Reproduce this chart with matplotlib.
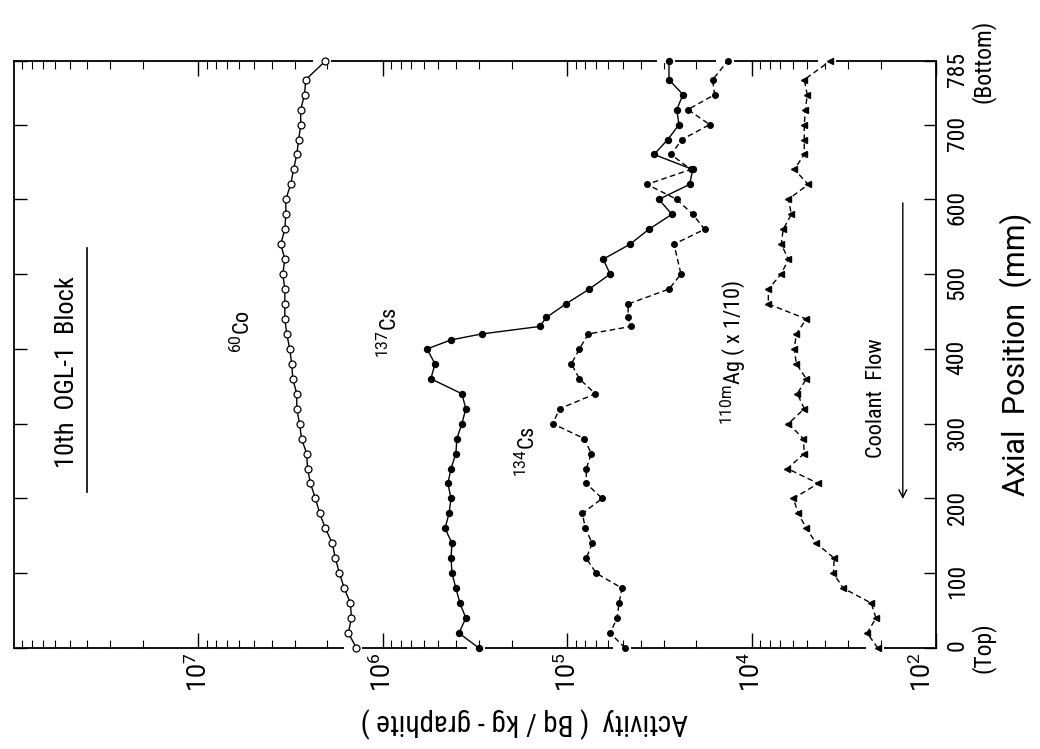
import numpy as np
import matplotlib
matplotlib.use('Agg')
import matplotlib.pyplot as plt
import matplotlib.transforms as mtransforms

plt.rcParams['font.family'] = ['Roboto Condensed', 'Roboto', 'DejaVu Sans']
plt.rcParams['mathtext.fontset'] = 'custom'
plt.rcParams['mathtext.rm'] = 'Roboto'
plt.rcParams['mathtext.it'] = 'Roboto'

# axial position (mm) and activity (Bq/kg-graphite)
co60_pos = [0, 20, 40, 60, 80, 100, 120, 140, 160, 180, 200, 220, 240, 260, 280,
            300, 320, 340, 360, 380, 400, 420, 440, 460, 480, 500, 520, 540, 560,
            580, 600, 620, 640, 660, 680, 700, 720, 740, 760, 785]
co60_val = [1.39e6, 1.54e6, 1.48e6, 1.50e6, 1.62e6, 1.72e6, 1.81e6, 1.88e6, 2.05e6,
            2.20e6, 2.32e6, 2.47e6, 2.56e6, 2.59e6, 2.76e6, 2.83e6, 2.93e6, 2.93e6,
            3.08e6, 3.12e6, 3.20e6, 3.32e6, 3.40e6, 3.40e6, 3.40e6, 3.49e6, 3.40e6,
            3.58e6, 3.40e6, 3.36e6, 3.36e6, 3.16e6, 3.05e6, 2.93e6, 2.86e6, 2.79e6,
            2.79e6, 2.66e6, 2.62e6, 2.05e6]

cs137_pos = [0, 20, 40, 60, 80, 100, 120, 140, 160, 180, 200, 220, 240, 260, 280,
             300, 320, 340, 360, 380, 400, 412, 420, 430, 442, 460, 480, 500, 520,
             540, 560, 580, 600, 620, 640, 660, 680, 700, 720, 740, 760, 785]
cs137_val = [3.02e5, 3.87e5, 3.55e5, 3.82e5, 4.02e5, 4.22e5, 4.27e5, 4.22e5, 4.60e5,
             4.38e5, 4.27e5, 4.44e5, 4.27e5, 4.02e5, 3.97e5, 3.73e5, 3.55e5, 3.73e5,
             5.49e5, 5.22e5, 5.76e5, 4.27e5, 2.91e5, 1.41e5, 1.30e5, 1.02e5, 7.60e4,
             5.86e4, 6.39e4, 4.57e4, 3.61e4, 2.71e4, 3.19e4, 2.17e4, 2.09e4, 3.39e4,
             2.85e4, 2.48e4, 2.55e4, 2.36e4, 2.81e4, 2.81e4]

cs134_pos = [0, 20, 40, 60, 80, 100, 120, 140, 160, 180, 200, 220, 240, 260, 280,
             300, 320, 340, 360, 380, 400, 420, 430, 442, 460, 480, 500, 540, 560,
             580, 600, 620, 640, 660, 680, 700, 720, 740, 760, 785]
cs134_val = [4.86e4, 5.86e4, 5.37e4, 5.24e4, 5.05e4, 6.97e4, 7.89e4, 7.33e4, 7.98e4,
             8.29e4, 6.47e4, 7.89e4, 7.89e4, 7.41e4, 8.09e4, 1.20e5, 1.10e5, 7.05e4,
             8.60e4, 9.50e4, 8.60e4, 7.69e4, 4.51e4, 4.68e4, 4.68e4, 2.81e4, 2.42e4,
             2.64e4, 1.80e4, 2.09e4, 2.55e4, 3.70e4, 2.14e4, 2.74e4, 2.39e4, 1.69e4,
             2.22e4, 1.59e4, 1.63e4, 1.35e4]

# 110mAg already multiplied by 1/10 as plotted
ag110m_pos = [0, 20, 40, 60, 80, 100, 120, 140, 160, 180, 200, 220, 240, 260, 280,
              300, 320, 340, 360, 380, 400, 420, 440, 460, 480, 500, 520, 540, 560,
              580, 600, 620, 640, 660, 680, 700, 720, 740, 760, 785]
ag110m_val = [2.07e3, 2.37e3, 2.12e3, 2.25e3, 3.19e3, 3.61e3, 3.57e3, 4.47e3, 5.06e3,
              5.59e3, 5.95e3, 4.36e3, 6.41e3, 5.19e3, 5.25e3, 6.33e3, 5.19e3, 5.66e3,
              5.06e3, 5.73e3, 5.88e3, 5.73e3, 5.06e3, 8.13e3, 8.13e3, 6.92e3, 6.33e3,
              6.92e3, 6.75e3, 6.10e3, 6.33e3, 4.94e3, 5.88e3, 5.19e3, 5.19e3, 5.19e3,
              5.12e3, 5.00e3, 5.19e3, 3.76e3]

act_ticks = [1e7, 1e6, 1e5, 1e4, 1e2]
act_labels = [r'$10^{7}$', r'$10^{6}$', r'$10^{5}$', r'$10^{4}$', r'$10^{2}$']
pos_ticks = [0, 100, 200, 300, 400, 500, 600, 700, 785]
pos_labels = ['0', '100', '200', '300', '400', '500', '600', '700', '785']
end_labels = ['(Top)', '(Bottom)']

# broken log axis: below 10^3.3 the decades are squeezed
LB = 3.3
K = 0.23


def fwd(v):
    v = np.asarray(v, dtype=float)
    L = np.log10(np.clip(v, 1e-10, None))
    return np.where(L >= LB, L, LB - (LB - L) * K)


def inv(u):
    u = np.asarray(u, dtype=float)
    with np.errstate(over='ignore'):
        return np.where(u >= LB, 10.0 ** u, 10.0 ** (LB - (LB - u) / K))


fig = plt.figure(figsize=(10.4, 7.49), dpi=100)
ax = fig.add_axes([14 / 1040, 101 / 749, 922 / 1040, 587 / 749])
ax.set_xscale('function', functions=(fwd, inv))
ax.set_xlim(1e8, 1e2)
ax.set_ylim(0, 785)

for s in ax.spines.values():
    s.set_linewidth(1.3)

ax.plot(co60_val, co60_pos, '-', color='k', lw=1.0, marker='o', ms=5,
        mfc='white', mec='k', mew=0.9, clip_on=False, zorder=4)
ax.plot(cs137_val, cs137_pos, '-', color='k', lw=1.0, marker='o', ms=4.3,
        clip_on=False, zorder=4)
ax.plot(cs134_val, cs134_pos, color='k', lw=1.0, ls=(0, (4, 2.5)), marker='o',
        ms=4, clip_on=False, zorder=4)
ax.plot(ag110m_val, ag110m_pos, color='k', lw=1.0, ls=(0, (4, 2.5)), marker='<',
        ms=5, clip_on=False, zorder=4)

# frame is broken where the end markers sit on it
ppu = 922 / (fwd(1e8) - fwd(1e2))
trans = mtransforms.blended_transform_factory(ax.transData, ax.transAxes)
for vals in (co60_val, cs137_val, cs134_val, ag110m_val):
    for v, yy in ((vals[0], 0), (vals[-1], 1)):
        u = fwd(v)
        ax.plot([inv(u - 6 / ppu), inv(u + 12 / ppu)], [yy, yy], color='white',
                lw=3, transform=trans, clip_on=False, zorder=3,
                solid_capstyle='butt')

ax.set_xticks(act_ticks)
ax.set_xticklabels(act_labels)
minor = [k * 10 ** d for d in range(3, 8) for k in range(2, 10) if k * 10 ** d >= 10 ** LB]
ax.set_xticks(minor, minor=True)
ax.tick_params(axis='x', which='both', direction='in', top=True, bottom=True,
               labelrotation=90, labelsize=18, pad=3)
ax.tick_params(axis='x', which='major', length=11, width=1)
ax.tick_params(axis='x', which='minor', length=6, width=0.8)
ax.get_xticklabels()[-1].set_horizontalalignment('right')

ax.set_yticks(pos_ticks)
ax.set_yticklabels(pos_labels)
ax.tick_params(axis='y', direction='in', left=True, right=True, labelleft=False,
               labelright=True, labelrotation=90, length=9, width=1, labelsize=17, pad=7)
# second line under the end ticks
for p, lab in zip((pos_ticks[0], pos_ticks[-1]), end_labels):
    ax.annotate(lab, xy=(1, p), xycoords=('axes fraction', 'data'),
                xytext=(34, 0), textcoords='offset points', rotation=90,
                ha='center', va='center', fontsize=17, annotation_clip=False)

ax.yaxis.set_label_position('right')
ax.set_ylabel('Axial  Position  (mm)', fontsize=22, family='Roboto', labelpad=22)

ax.set_xlabel('Activity  ( Bq / kg - graphite )', fontsize=21, rotation=180)
ax.xaxis.set_label_coords(0.553, -0.10)

ax.text(0.058, 0.47, '10th  OGL-1  Block', transform=ax.transAxes, rotation=90,
        ha='center', va='center', fontsize=19)
ax.plot([0.079, 0.079], [0.266, 0.681], color='k', lw=1.2, transform=ax.transAxes)
ax.text(0.248, 0.540, r'$^{60}$Co', transform=ax.transAxes, rotation=90,
        ha='center', va='center', fontsize=16)
ax.text(0.407, 0.538, r'$^{137}$Cs', transform=ax.transAxes, rotation=90,
        ha='center', va='center', fontsize=16)
ax.text(0.557, 0.334, r'$^{134}$Cs', transform=ax.transAxes, rotation=90,
        ha='center', va='center', fontsize=16)
ax.text(0.780, 0.503, r'$^{110\mathrm{m}}$Ag ( x 1/10)', transform=ax.transAxes,
        rotation=90, ha='center', va='center', fontsize=16)
ax.text(0.936, 0.426, 'Coolant  Flow', transform=ax.transAxes, rotation=90,
        ha='center', va='center', fontsize=16)
ax.annotate('', xy=(0.964, 0.249), xytext=(0.964, 0.763), xycoords='axes fraction',
            arrowprops=dict(arrowstyle='->', lw=1.0, color='k', mutation_scale=14))

fig.savefig('out.png', dpi=100)
